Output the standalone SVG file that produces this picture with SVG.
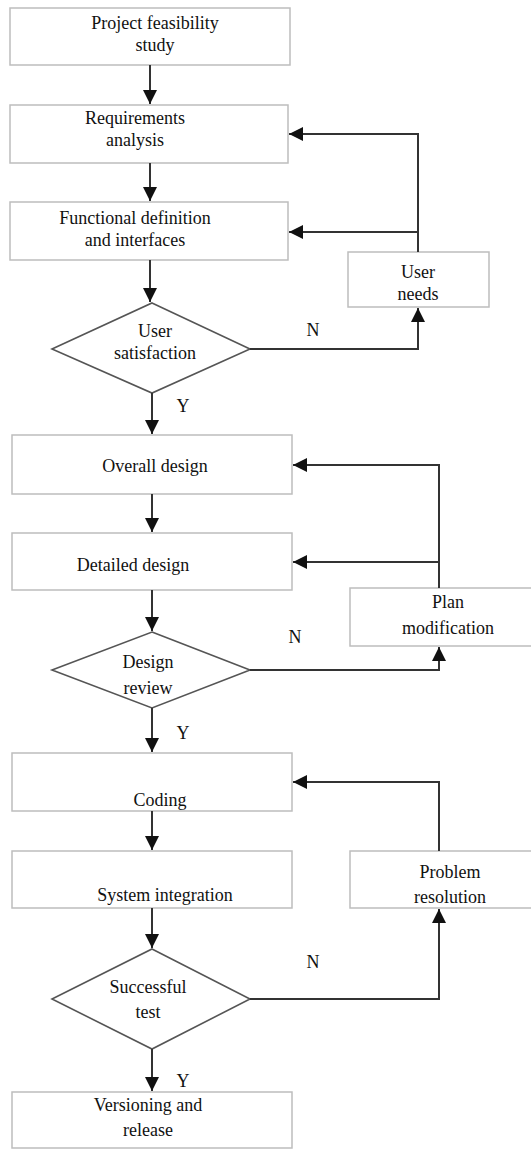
<svg xmlns="http://www.w3.org/2000/svg" width="531" height="1150" viewBox="0 0 531 1150">
<style>
.box{fill:#fff;stroke:#bdbdbd;stroke-width:1.5}
.dia{fill:#fff;stroke:#555;stroke-width:1.6}
.t{font-family:'Liberation Serif','DejaVu Serif',serif;font-size:18px;fill:#111;text-anchor:middle}
.c{fill:none;stroke:#333;stroke-width:2}
</style>
<defs>
<marker id="ah" viewBox="0 0 14 14" refX="14" refY="7" markerWidth="14" markerHeight="14" markerUnits="userSpaceOnUse" orient="auto">
<path d="M0,0 L14,7 L0,14 Z" fill="#111"/>
</marker>
</defs>
<rect width="531" height="1150" fill="#fff"/>
<g id="n1"><rect class="box" x="10" y="8" width="280" height="57"/><text class="t" x="155" y="29">Project feasibility</text><text class="t" x="155" y="51">study</text></g>
<g id="n2"><rect class="box" x="10" y="105" width="278" height="58"/><text class="t" x="135" y="124">Requirements</text><text class="t" x="135" y="146">analysis</text></g>
<g id="n3"><rect class="box" x="10" y="202" width="278" height="58"/><text class="t" x="135" y="224">Functional definition</text><text class="t" x="135" y="246">and interfaces</text></g>
<g id="n4"><rect class="box" x="348" y="252" width="141" height="55"/><text class="t" x="418" y="278">User</text><text class="t" x="418" y="300">needs</text></g>
<g id="d1"><polygon class="dia" points="152,303 250,349 152,393 52,349"/><text class="t" x="155" y="337">User</text><text class="t" x="155" y="359">satisfaction</text></g>
<g id="n5"><rect class="box" x="12" y="435" width="280" height="59"/><text class="t" x="155" y="472">Overall design</text></g>
<g id="n6"><rect class="box" x="12" y="533" width="280" height="57"/><text class="t" x="133" y="571">Detailed design</text></g>
<g id="n7"><rect class="box" x="350" y="588" width="185" height="58"/><text class="t" x="448" y="608">Plan</text><text class="t" x="448" y="634">modification</text></g>
<g id="d2"><polygon class="dia" points="152,632 250,670 152,708 52,670"/><text class="t" x="148" y="668">Design</text><text class="t" x="148" y="694">review</text></g>
<g id="n8"><rect class="box" x="12" y="753" width="280" height="58"/><text class="t" x="160" y="806">Coding</text></g>
<g id="n9"><rect class="box" x="12" y="851" width="280" height="57"/><text class="t" x="165" y="901">System integration</text></g>
<g id="n10"><rect class="box" x="350" y="851" width="185" height="57"/><text class="t" x="450" y="878">Problem</text><text class="t" x="450" y="903">resolution</text></g>
<g id="d3"><polygon class="dia" points="152,949 250,999 152,1049 52,999"/><text class="t" x="148" y="993">Successful</text><text class="t" x="148" y="1018">test</text></g>
<g id="n11"><rect class="box" x="12" y="1092" width="280" height="56"/><text class="t" x="148" y="1111">Versioning and</text><text class="t" x="148" y="1136">release</text></g>
<g id="connectors">
<path class="c" d="M150,65 V104" marker-end="url(#ah)"/>
<path class="c" d="M150,163 V201" marker-end="url(#ah)"/>
<path class="c" d="M150,260 V302" marker-end="url(#ah)"/>
<path class="c" d="M418,252 V134 H289" marker-end="url(#ah)"/>
<path class="c" d="M418,232 H289" marker-end="url(#ah)"/>
<path class="c" d="M250,349 H418 V308" marker-end="url(#ah)"/>
<path class="c" d="M152,393 V434" marker-end="url(#ah)"/>
<path class="c" d="M152,494 V532" marker-end="url(#ah)"/>
<path class="c" d="M439,588 V465 H293" marker-end="url(#ah)"/>
<path class="c" d="M439,562 H293" marker-end="url(#ah)"/>
<path class="c" d="M152,590 V631" marker-end="url(#ah)"/>
<path class="c" d="M250,670 H439 V647" marker-end="url(#ah)"/>
<path class="c" d="M152,708 V752" marker-end="url(#ah)"/>
<path class="c" d="M439,851 V782 H293" marker-end="url(#ah)"/>
<path class="c" d="M152,811 V850" marker-end="url(#ah)"/>
<path class="c" d="M152,908 V948" marker-end="url(#ah)"/>
<path class="c" d="M250,999 H439 V909" marker-end="url(#ah)"/>
<path class="c" d="M152,1049 V1091" marker-end="url(#ah)"/>
<text class="t" x="313" y="336">N</text>
<text class="t" x="183" y="412">Y</text>
<text class="t" x="295" y="643">N</text>
<text class="t" x="183" y="739">Y</text>
<text class="t" x="313" y="968">N</text>
<text class="t" x="183" y="1087">Y</text>
</g>
</svg>
